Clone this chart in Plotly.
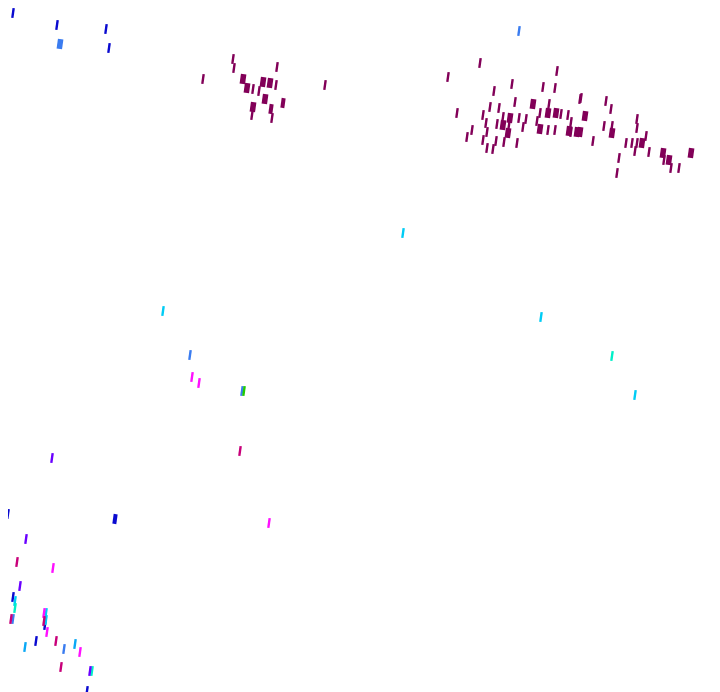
import plotly.graph_objects as go

# Embedding coordinates (x, y) per group, y grows downward
dark_blue_x = [13, 57, 106, 109, 8, 4, 13, 45, 36, 87, 115]
dark_blue_y = [13, 25, 29, 48, 514, 576, 597, 625, 641, 691, 519]
dark_blue_n = [1, 1, 1, 1, 1, 1, 1, 1, 1, 1, 2]
blue_x = [60, 519, 190, 242, 64, 6, 13]
blue_y = [44, 31, 355, 391, 649, 665, 619]
blue_n = [3, 1, 1, 1, 1, 1, 1]
plum_x = [233, 234, 203, 277, 243, 247, 253, 263, 270, 276, 259, 265, 253, 252, 271, 272, 283, 325,
          480, 448, 557, 512, 494, 543, 555, 515, 533, 549, 580, 457, 490, 499, 483, 503, 510, 519, 526,
          540, 548, 556, 561, 568, 537, 486, 497, 503, 509, 523, 540, 548, 555, 569, 577, 472, 487, 508,
          467, 483, 496, 504, 517, 487, 493,
          581, 606, 611, 571, 585, 580, 571, 604, 612, 612, 637, 637, 646, 642, 593, 626, 632, 637, 635,
          649, 663, 669, 664, 619, 671, 679, 691, 617]
plum_y = [59, 68, 79, 67, 79, 88, 89, 82, 83, 85, 91, 99, 107, 115, 109, 118, 103, 85,
          63, 77, 71, 84, 91, 87, 88, 102, 104, 104, 99, 113, 107, 108, 115, 117, 118, 118, 119,
          113, 113, 113, 114, 115, 121, 123, 124, 125, 125, 127, 129, 130, 130, 131, 132, 130, 132, 133,
          137, 140, 141, 142, 143, 148, 149,
          98, 101, 109, 122, 116, 132, 132, 126, 126, 133, 119, 128, 136, 143, 141, 143, 143, 143, 151,
          152, 153, 160, 160, 158, 168, 168, 153, 173]
plum_n = [1, 1, 1, 1, 3, 3, 1, 3, 3, 1, 1, 3, 3, 1, 2, 1, 2, 1,
          1, 1, 1, 1, 1, 1, 1, 1, 3, 1, 1, 1, 1, 1, 1, 1, 3, 1, 1,
          1, 3, 3, 1, 1, 1, 1, 1, 3, 1, 1, 3, 1, 1, 3, 3, 1, 1, 3,
          1, 1, 1, 1, 1, 1, 1,
          1, 1, 1, 1, 3, 3, 1, 1, 1, 3, 1, 1, 1, 3, 1, 1, 1, 1, 1,
          1, 3, 3, 1, 1, 1, 1, 3, 1]
cyan_x = [403, 163, 541, 635, 15, 46, 46]
cyan_y = [233, 311, 317, 395, 601, 613, 620]
aqua_x = [612, 15, 92]
aqua_y = [356, 608, 671]
magenta_x = [192, 199, 269, 53, 44, 47, 80, 6]
magenta_y = [377, 383, 523, 568, 613, 632, 652, 658]
violet_x = [52, 26, 20, 90]
violet_y = [458, 539, 586, 671]
crimson_x = [240, 17, 11, 44, 56, 4, 61]
crimson_y = [451, 562, 619, 621, 641, 665, 667]
green_x = [244]
green_y = [391]
sky_x = [25, 75]
sky_y = [647, 644]

groups = [
    ("dark blue", dark_blue_x, dark_blue_y, dark_blue_n, "#0a0ad0"),
    ("blue", blue_x, blue_y, blue_n, "#3a7cf0"),
    ("plum", plum_x, plum_y, plum_n, "#820058"),
    ("cyan", cyan_x, cyan_y, None, "#00ccf5"),
    ("aqua", aqua_x, aqua_y, None, "#00f0c8"),
    ("magenta", magenta_x, magenta_y, None, "#ff10ff"),
    ("violet", violet_x, violet_y, None, "#6a00ff"),
    ("crimson", crimson_x, crimson_y, None, "#c8007a"),
    ("green", green_x, green_y, None, "#22cc00"),
    ("sky", sky_x, sky_y, None, "#0aa8f5"),
]

fig = go.Figure()
for name, xs, ys, ns, col in groups:
    if ns is None:
        widths = 2.4
    else:
        widths = [2.4 if n == 1 else (4.0 if n == 2 else 5.5) for n in ns]
    fig.add_trace(go.Scatter(
        x=xs, y=ys, mode="markers", name=name,
        marker=dict(symbol="line-ns", size=7, angle=8,
                    line=dict(color=col, width=widths)),
    ))

fig.update_layout(
    width=720, height=692,
    margin=dict(l=0, r=0, t=0, b=0),
    paper_bgcolor="white", plot_bgcolor="white",
    showlegend=False,
    xaxis=dict(range=[8, 728], visible=False),
    yaxis=dict(range=[700, 8], visible=False),
)
fig.write_html("out.html")
